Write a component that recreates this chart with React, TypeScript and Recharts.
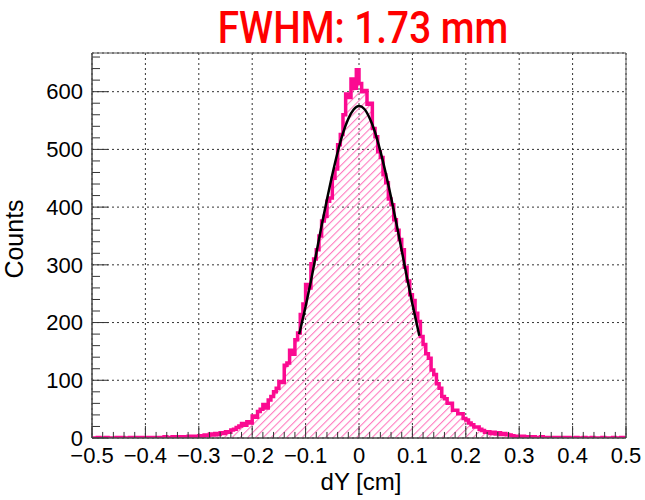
import React from 'react';
import {
  ComposedChart,
  Area,
  Line,
  XAxis,
  YAxis,
  CartesianGrid,
  ReferenceLine,
  ReferenceArea,
} from 'recharts';

// histogram: 200 bins of 0.005 cm from -0.5 to 0.5 (counts per bin)
const binStart = -0.5;
const binWidth = 0.005;
const histCounts = [
  0, 0, 1, 0, 0, 1, 0, 0, 0, 1, 0, 1, 0, 0, 1, 0, 1, 0, 1, 1,
  1, 0, 1, 1, 0, 1, 1, 2, 1, 1, 2, 1, 2, 2, 1, 2, 3, 2, 3, 3,
  4, 3, 5, 4, 7, 5, 8, 6, 9, 8, 11, 10, 14, 15, 18, 21, 25, 22, 28, 26,
  38, 36, 46, 50, 58, 52, 66, 72, 80, 86, 98, 96, 126, 130, 152, 145, 170, 182, 214, 232,
  266, 260, 302, 310, 326, 350, 376, 384, 410, 416, 450, 466, 508, 526, 560, 596, 590, 622, 606, 638,
  614, 600, 602, 578, 580, 536, 522, 496, 486, 456, 442, 414, 404, 378, 360, 344, 326, 296, 272, 248,
  238, 216, 202, 176, 162, 146, 138, 118, 110, 94, 86, 72, 68, 60, 60, 48, 48, 42, 42, 34,
  31, 26, 23, 19, 19, 15, 13, 10, 11, 8, 10, 7, 9, 6, 8, 6, 5, 4, 3, 3,
  2, 3, 2, 2, 1, 2, 1, 1, 2, 1, 1, 0, 1, 1, 0, 1, 0, 1, 1, 0,
  0, 1, 0, 0, 1, 0, 0, 1, 0, 0, 0, 1, 0, 0, 0, 1, 0, 0, 1, 0,
];

// gaussian fit curve
const fitX = [-0.112, -0.1, -0.09, -0.08, -0.07, -0.06, -0.05, -0.04, -0.03, -0.02, -0.01, 0,
  0.01, 0.02, 0.03, 0.04, 0.05, 0.06, 0.07, 0.08, 0.09, 0.1, 0.113];
const fitY = [180, 228, 272, 320, 368, 413, 456, 495, 528, 553, 569, 575,
  570, 554, 530, 497, 459, 417, 372, 325, 277, 232, 177];

const xTicks = [-0.5, -0.4, -0.3, -0.2, -0.1, 0, 0.1, 0.2, 0.3, 0.4, 0.5];
const yTicks = [0, 100, 200, 300, 400, 500, 600];
const yMax = 667;

const xMinor: number[] = [];
for (let i = 1; i < 50; i++) if (i % 5 !== 0) xMinor.push(Math.round((-0.5 + i * 0.02) * 100) / 100);
const yMinor: number[] = [];
for (let v = 20; v < yMax; v += 20) if (v % 100 !== 0) yMinor.push(v);

const histData = histCounts.map((c, i) => ({
  x: Math.round((binStart + i * binWidth) * 1000) / 1000,
  count: c,
}));
histData.push({ x: 0.5, count: histCounts[histCounts.length - 1] });

const fitData = fitX.map((x, i) => ({ x, fit: fitY[i] }));

const PINK = '#fb0a91';
const tickStyle = { fontFamily: '"Liberation Sans", Arial, sans-serif', fontSize: 22, fill: '#000' };

const fmtX = (v: number) => (v === 0 ? '0' : v < 0 ? '\u2212' + Math.abs(v) : String(v));

export default function App() {
  return (
    <div style={{ position: 'absolute', left: 0, top: 0, width: 645, height: 500, background: '#fff' }}>
      <div
        style={{
          position: 'absolute', left: 363, top: 6, lineHeight: '44px', fontSize: 44,
          fontFamily: 'Roboto, sans-serif', fontWeight: 500, color: '#ff0000', whiteSpace: 'nowrap',
          transform: 'translateX(-50%) scaleX(0.88)',
        }}
      >
        FWHM: 1.73 mm
      </div>
      <div
        style={{
          position: 'absolute', left: -36, top: 224, width: 100, height: 30, lineHeight: '30px',
          textAlign: 'center', fontSize: 25, fontFamily: '"Liberation Sans", Arial, sans-serif',
          transform: 'rotate(-90deg)',
        }}
      >
        Counts
      </div>
      <div
        style={{
          position: 'absolute', left: 261, top: 470, width: 200, lineHeight: '24px',
          textAlign: 'center', fontSize: 24, fontFamily: '"Liberation Sans", Arial, sans-serif',
        }}
      >
        dY [cm]
      </div>
      <ComposedChart width={645} height={500} margin={{ top: 53, right: 19, bottom: 0, left: 0 }}>
        <defs>
          <pattern id="hatch" patternUnits="userSpaceOnUse" width="5.5" height="5.5" patternTransform="rotate(45)">
            <line x1="0.5" y1="0" x2="0.5" y2="5.5" stroke="#ff7cc0" strokeWidth="1.2" />
          </pattern>
        </defs>
        <CartesianGrid stroke="#333" strokeDasharray="2 3" />
        <XAxis
          dataKey="x"
          type="number"
          domain={[-0.5, 0.5]}
          ticks={xTicks}
          allowDataOverflow
          height={62}
          tickSize={0}
          tickMargin={9}
          tickLine={false}
          tickFormatter={fmtX}
          tick={tickStyle}
          axisLine={{ stroke: '#444' }}
          interval={0}
        />
        <YAxis
          type="number"
          domain={[0, yMax]}
          ticks={yTicks}
          allowDataOverflow
          width={92}
          tickSize={0}
          tickMargin={9}
          tickLine={false}
          tick={tickStyle}
          axisLine={{ stroke: '#444' }}
          interval={0}
        />
        <Area
          data={histData}
          dataKey="count"
          type="stepAfter"
          stroke={PINK}
          strokeWidth={3.5}
          fill="url(#hatch)"
          fillOpacity={1}
          baseValue={0}
          dot={false}
          activeDot={false}
          isAnimationActive={false}
        />
        <Line
          data={fitData}
          dataKey="fit"
          type="monotone"
          stroke="#000"
          strokeWidth={2.5}
          dot={false}
          activeDot={false}
          isAnimationActive={false}
        />
        <ReferenceArea x1={-0.5} x2={0.5} y1={0} y2={yMax} fill="none" stroke="#555" strokeWidth={1} />
        {xTicks.map((t) => (
          <ReferenceLine key={'xM' + t} segment={[{ x: t, y: 0 }, { x: t, y: 21 }]} stroke="#333" strokeWidth={1} />
        ))}
        {xMinor.map((t) => (
          <ReferenceLine key={'xm' + t} segment={[{ x: t, y: 0 }, { x: t, y: 10.5 }]} stroke="#333" strokeWidth={1} />
        ))}
        {yTicks.map((t) => (
          <ReferenceLine key={'yM' + t} segment={[{ x: -0.5, y: t }, { x: -0.47, y: t }]} stroke="#333" strokeWidth={1} />
        ))}
        {yMinor.map((t) => (
          <ReferenceLine key={'ym' + t} segment={[{ x: -0.5, y: t }, { x: -0.485, y: t }]} stroke="#333" strokeWidth={1} />
        ))}
      </ComposedChart>
    </div>
  );
}
